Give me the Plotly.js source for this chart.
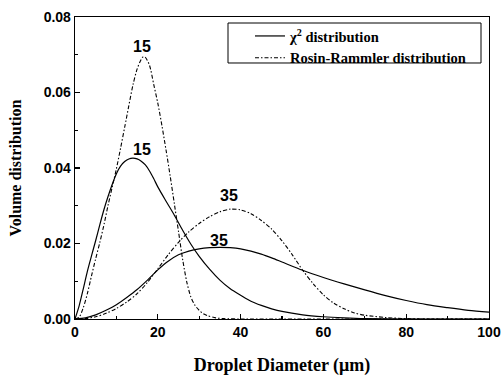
<!DOCTYPE html>
<html>
<head>
<meta charset="utf-8">
<script src="https://cdn.plot.ly/plotly-3.0.1.min.js"></script>
<style>
  html, body { margin: 0; padding: 0; background: #ffffff; }
  #chart { width: 503px; height: 376px; }
</style>
</head>
<body>
<div id="chart"></div>
<script>
// Droplet diameter (µm) and volume distribution for the chi-square fits
const chi15X = [0, 1, 2, 3, 4, 5, 6, 7, 8, 9, 10, 11, 12, 13, 14, 15, 16, 17, 18, 19, 20, 22, 24, 26, 28, 30, 32.5, 35, 37.5, 40, 42.5, 45, 47.5, 50, 55, 60, 65, 70, 80, 90, 100];
const chi15Y = [0, 0.0035, 0.0080, 0.0127, 0.0168, 0.0208, 0.0250, 0.0290, 0.0325, 0.0357, 0.0385, 0.0405, 0.0417, 0.0424, 0.0426, 0.0424, 0.0418, 0.0408, 0.0392, 0.0372, 0.0350, 0.0312, 0.0275, 0.0235, 0.0198, 0.0166, 0.0132, 0.0103, 0.0080, 0.0063, 0.0047, 0.0036, 0.0027, 0.0020, 0.0011, 0.0006, 0.0003, 0.0001, 0, 0, 0];

const chi35X = [0, 2.5, 5, 7.5, 10, 12.5, 15, 17.5, 20, 22.5, 25, 27.5, 30, 32.5, 35, 37.5, 40, 42.5, 45, 47.5, 50, 55, 60, 65, 70, 75, 80, 85, 90, 95, 100];
const chi35Y = [0, 0.0003, 0.0011, 0.0023, 0.0038, 0.0057, 0.0078, 0.0103, 0.0130, 0.0153, 0.0170, 0.0180, 0.0186, 0.0189, 0.0190, 0.0189, 0.0186, 0.0180, 0.0172, 0.0162, 0.0151, 0.0129, 0.0110, 0.0093, 0.0077, 0.0062, 0.0049, 0.0038, 0.0030, 0.0023, 0.0018];

// Rosin-Rammler fits
const rr15X = [0, 1, 2, 3, 4, 5, 6, 7, 8, 9, 10, 11, 12, 13, 14, 15, 16, 16.5, 17, 18, 19, 20, 21, 22, 23, 24, 25, 26, 27, 28, 29, 30, 31, 32, 34, 36, 40, 50, 60, 70, 80, 90, 100];
const rr15Y = [0, 0.0005, 0.0030, 0.0068, 0.0115, 0.0160, 0.0203, 0.0250, 0.0302, 0.0350, 0.0398, 0.0452, 0.0508, 0.0565, 0.0620, 0.0662, 0.0688, 0.0695, 0.0693, 0.0672, 0.0622, 0.0572, 0.0512, 0.0447, 0.0378, 0.0305, 0.0232, 0.0158, 0.0098, 0.0058, 0.0036, 0.0023, 0.0014, 0.0009, 0.0003, 0.0001, 0, 0, 0, 0, 0, 0, 0];

const rr35X = [0, 2.5, 5, 7.5, 10, 12.5, 15, 17.5, 20, 22.5, 25, 27.5, 30, 32.5, 35, 37.5, 40, 42.5, 45, 47.5, 50, 52.5, 55, 57.5, 60, 62.5, 65, 67.5, 70, 75, 80, 85, 90, 100];
const rr35Y = [0, 0.0001, 0.0006, 0.0015, 0.0028, 0.0045, 0.0067, 0.0097, 0.0133, 0.0170, 0.0203, 0.0231, 0.0253, 0.0271, 0.0284, 0.0291, 0.0289, 0.0279, 0.0261, 0.0238, 0.0207, 0.0170, 0.0129, 0.0094, 0.0064, 0.0042, 0.0027, 0.0016, 0.0010, 0.0004, 0.0001, 0, 0, 0];

// Curve labels: text and the point each one sits over
const labelText = ['15', '15', '35', '35'];
const labelX = [16.3, 16.1, 37.1, 34.7];
const labelY = [0.0721, 0.0448, 0.0326, 0.0209];

const seriesNames = ['\u03c7<sup>2</sup> distribution', 'Rosin-Rammler distribution'];

const sansBold = { family: 'Liberation Sans, Arial, sans-serif', size: 14, color: '#000', weight: 'bold' };
const labelFont = { family: 'Liberation Sans, Arial, sans-serif', size: 16, color: '#000', weight: 'bold' };
const serifBold = { family: 'Liberation Serif, Times New Roman, serif', color: '#000', weight: 'bold' };
const rrDash = '4px,2px,1.5px,2px';

const solidLine = { color: '#000', width: 1.2, shape: 'spline', smoothing: 0.8 };
const dashLine = { color: '#000', width: 1.1, dash: rrDash, shape: 'spline', smoothing: 0.8 };

const traces = [
  { x: chi15X, y: chi15Y, mode: 'lines', name: seriesNames[0], line: solidLine, legendgroup: 'chi', showlegend: true },
  { x: rr15X, y: rr15Y, mode: 'lines', name: seriesNames[1], line: dashLine, legendgroup: 'rr', showlegend: true },
  { x: chi35X, y: chi35Y, mode: 'lines', name: seriesNames[0], line: solidLine, legendgroup: 'chi', showlegend: false },
  { x: rr35X, y: rr35Y, mode: 'lines', name: seriesNames[1], line: dashLine, legendgroup: 'rr', showlegend: false }
];

const annotations = labelText.map((t, i) => ({
  x: labelX[i], y: labelY[i], xref: 'x', yref: 'y',
  text: t, showarrow: false, font: labelFont,
  xanchor: 'center', yanchor: 'middle'
}));

const axisCommon = {
  showline: true, linecolor: '#000', linewidth: 1.3, mirror: true,
  showgrid: false, zeroline: false,
  ticks: 'inside', ticklen: 5, tickwidth: 1.2, tickcolor: '#000',
  tickfont: sansBold
};

const layout = {
  width: 503, height: 376,
  margin: { l: 75, r: 14, t: 17, b: 57 },
  paper_bgcolor: '#fff', plot_bgcolor: '#fff',
  showlegend: true,
  xaxis: Object.assign({}, axisCommon, {
    range: [0, 100], dtick: 20, tick0: 0,
    minor: { dtick: 10, ticks: 'inside', ticklen: 3, tickwidth: 1.2, tickcolor: '#000' },
    title: { text: 'Droplet Diameter (\u03bcm)', font: Object.assign({}, serifBold, { size: 18 }), standoff: 20 }
  }),
  yaxis: Object.assign({}, axisCommon, {
    range: [0, 0.08], dtick: 0.02, tick0: 0, tickformat: '.2f',
    minor: { dtick: 0.01, ticks: 'inside', ticklen: 3, tickwidth: 1.2, tickcolor: '#000' },
    title: { text: 'Volume distribution', font: Object.assign({}, serifBold, { size: 16 }), standoff: 18 }
  }),
  legend: {
    x: 0.4227, y: 0.99, xanchor: 'left', yanchor: 'top',
    bgcolor: 'rgba(0,0,0,0)', borderwidth: 0,
    font: Object.assign({}, serifBold, { size: 14.5 }),
    tracegroupgap: 0, itemwidth: 30
  },
  shapes: [{
    type: 'rect', xref: 'paper', yref: 'paper',
    x0: 0.3696, x1: 0.9807, y0: 0.8477, y1: 0.9801,
    line: { color: '#000', width: 1 }, fillcolor: 'rgba(0,0,0,0)'
  }],
  annotations: annotations
};

Plotly.newPlot('chart', traces, layout, { displayModeBar: false, staticPlot: true });
</script>
</body>
</html>
